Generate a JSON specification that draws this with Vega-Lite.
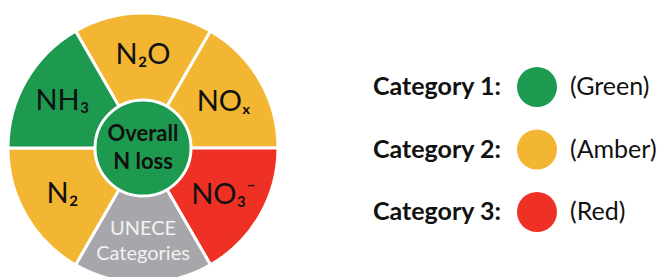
{
  "$schema": "https://vega.github.io/schema/vega-lite/v6.json",
  "padding": 0,
  "bounds": "flush",
  "spacing": 126,
  "config": {"view": {"stroke": null}, "font": "Lato"},
  "hconcat": [
    {
      "width": 286,
      "height": 296,
      "data": {
        "values": [
          {"idx": 1, "label": "N₂O", "cat": "Category 2", "share": 1},
          {"idx": 2, "label": "NOₓ", "cat": "Category 2", "share": 1},
          {"idx": 3, "label": "NO₃⁻", "cat": "Category 3", "share": 1},
          {"idx": 4, "label": "UNECE\nCategories", "cat": "UNECE", "share": 1},
          {"idx": 5, "label": "N₂", "cat": "Category 2", "share": 1},
          {"idx": 6, "label": "NH₃", "cat": "Category 1", "share": 1}
        ]
      },
      "layer": [
        {
          "mark": {"type": "arc", "outerRadius": 135, "stroke": "white", "strokeWidth": 3},
          "encoding": {
            "theta": {"field": "share", "type": "quantitative", "stack": true, "scale": {"range": [-0.5236, 5.7596]}},
            "order": {"field": "idx", "type": "quantitative"},
            "color": {
              "field": "cat", "type": "nominal", "legend": null,
              "scale": {"domain": ["Category 1", "Category 2", "Category 3", "UNECE"], "range": ["#1E9A50", "#F2B632", "#EE3124", "#A7A6AA"]}
            }
          }
        },
        {
          "mark": {"type": "text", "radius": 93, "baseline": "middle", "fontSize": 29, "color": "#111111"},
          "encoding": {
            "theta": {"field": "share", "type": "quantitative", "stack": true, "scale": {"range": [-0.5236, 5.7596]}},
            "order": {"field": "idx", "type": "quantitative"},
            "text": {"condition": {"test": "datum.cat !== 'UNECE'", "field": "label"}, "value": ""}
          }
        },
        {
          "mark": {"type": "text", "radius": 93, "baseline": "middle", "dy": -12, "fontSize": 20, "lineBreak": "\n", "lineHeight": 25, "color": "#F2F2F2"},
          "encoding": {
            "theta": {"field": "share", "type": "quantitative", "stack": true, "scale": {"range": [-0.5236, 5.7596]}},
            "order": {"field": "idx", "type": "quantitative"},
            "text": {"condition": {"test": "datum.cat === 'UNECE'", "field": "label"}, "value": ""}
          }
        },
        {
          "data": {"values": [{"name": "Overall\nN loss"}]},
          "mark": {"type": "arc", "theta": 0, "theta2": 6.2832, "outerRadius": 48, "fill": "#1E9A50", "stroke": "white", "strokeWidth": 3},
          "encoding": {}
        },
        {
          "data": {"values": [{"name": "Overall\nN loss"}]},
          "mark": {"type": "text", "fontSize": 22, "fontWeight": "bold", "lineBreak": "\n", "lineHeight": 28, "baseline": "middle", "dy": -14, "color": "#111111"},
          "encoding": {"text": {"field": "name"}}
        }
      ]
    },
    {
      "width": 250,
      "height": 296,
      "data": {
        "values": [
          {"cat": "Category 1", "label": "Category 1:", "name": "(Green)"},
          {"cat": "Category 2", "label": "Category 2:", "name": "(Amber)"},
          {"cat": "Category 3", "label": "Category 3:", "name": "(Red)"}
        ]
      },
      "encoding": {
        "y": {"field": "cat", "type": "nominal", "scale": {"type": "point", "range": [87, 212], "padding": 0}, "axis": null}
      },
      "layer": [
        {
          "mark": {"type": "point", "filled": true, "size": 1600, "opacity": 1},
          "encoding": {
            "color": {
              "field": "cat", "type": "nominal", "legend": null,
              "scale": {"domain": ["Category 1", "Category 2", "Category 3", "UNECE"], "range": ["#1E9A50", "#F2B632", "#EE3124", "#A7A6AA"]}
            }
          }
        },
        {
          "mark": {"type": "text", "align": "left", "baseline": "middle", "dx": -164, "fontSize": 25, "fontWeight": "bold", "color": "#111111"},
          "encoding": {"text": {"field": "label"}}
        },
        {
          "mark": {"type": "text", "align": "left", "baseline": "middle", "dx": 33, "fontSize": 25, "color": "#111111"},
          "encoding": {"text": {"field": "name"}}
        }
      ]
    }
  ]
}
